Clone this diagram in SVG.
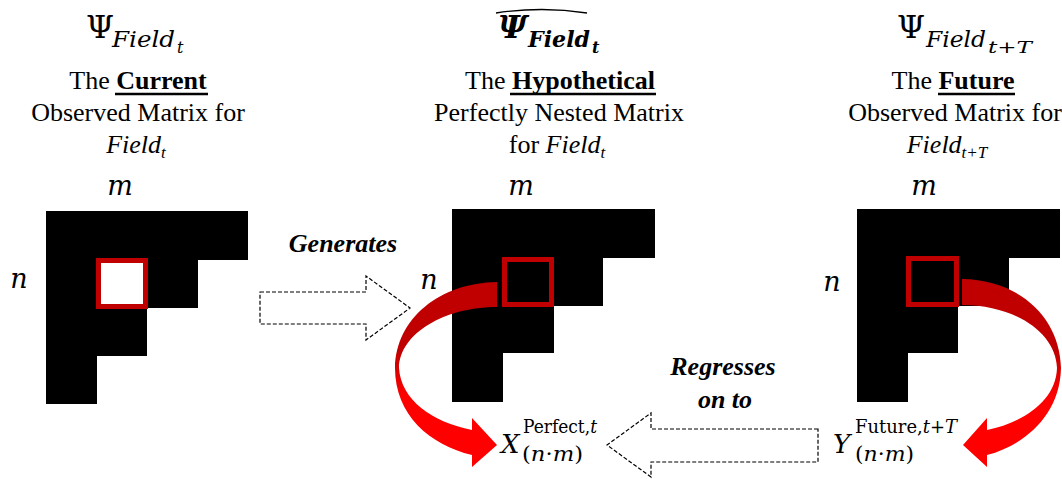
<svg xmlns="http://www.w3.org/2000/svg" width="1062" height="479" viewBox="0 0 1062 479">
<style>
.body{font-family:"Liberation Serif","Times New Roman",serif;font-size:26px;fill:#000}
.b{font-weight:bold}
.i{font-style:italic}
.math{font-family:"DejaVu Serif","Liberation Serif",serif;fill:#000}
.verb{font-family:"Liberation Serif","Times New Roman",serif;font-size:26px;font-weight:bold;font-style:italic;text-anchor:middle}
.ul{stroke:#000;stroke-width:2.5}
.mat{fill:#000}
.sel{fill:none;stroke:#c00000;stroke-width:5}
.sel.hole{fill:#fff}
.dash{fill:#fff;stroke:#000;stroke-width:1.2;stroke-dasharray:4 2}
.hat{fill:none;stroke:#000;stroke-width:1.3}
</style>
<defs>
<linearGradient id="redL" gradientUnits="userSpaceOnUse" x1="0" y1="280" x2="0" y2="468">
<stop offset="0" stop-color="#c00000"/>
<stop offset="0.38" stop-color="#c00000"/>
<stop offset="0.62" stop-color="#ff0000"/>
<stop offset="1" stop-color="#ff0000"/>
</linearGradient>
</defs>

<g id="current">
<text class="math" x="86" y="38" font-size="32">Ψ</text>
<text class="math i" x="112" y="47" font-size="22" textLength="63" lengthAdjust="spacingAndGlyphs">Field</text>
<text class="math i" x="177" y="53" font-size="16">t</text>
<text class="body" x="138" y="89" text-anchor="middle">The <tspan class="b">Current</tspan></text>
<line class="ul" x1="115" y1="94" x2="208" y2="94"/>
<text class="body" x="138" y="121" text-anchor="middle">Observed Matrix for</text>
<text class="body i" x="136" y="153" text-anchor="middle">Field<tspan font-size="17" dy="5">t</tspan></text>
<text class="math i" x="120" y="195" font-size="27" text-anchor="middle">m</text>
<text class="math i" x="19" y="288" font-size="27" text-anchor="middle">n</text>
<path class="mat" d="M46,211H248V260H198V308H147V356H97V404H46Z"/>
<rect x="98.5" y="260.5" width="47" height="46" class="sel hole"/>
</g>

<g id="hypothetical">
<path class="hat" d="M496,13 Q542,6 587,13"/>
<text class="math b i" x="498" y="38" font-size="32">Ψ</text>
<text class="math b i" x="528" y="47" font-size="22" textLength="62" lengthAdjust="spacingAndGlyphs">Field</text>
<text class="math b i" x="592" y="53" font-size="16">t</text>
<text class="body" x="560" y="89" text-anchor="middle">The <tspan class="b">Hypothetical</tspan></text>
<line class="ul" x1="510" y1="94" x2="656" y2="94"/>
<text class="body" x="559" y="121" text-anchor="middle">Perfectly Nested Matrix</text>
<text class="body" x="557" y="153" text-anchor="middle">for <tspan class="i">Field</tspan><tspan class="i" font-size="17" dy="5">t</tspan></text>
<text class="math i" x="521" y="195" font-size="27" text-anchor="middle">m</text>
<text class="math i" x="429" y="289" font-size="27" text-anchor="middle">n</text>
<path class="mat" d="M452,209H655V258H603V306H554V353H503V402H452Z"/>
<rect x="504.5" y="259.5" width="47" height="45" class="sel"/>
</g>

<g id="future">
<text class="math" x="897" y="38" font-size="32">Ψ</text>
<text class="math i" x="926" y="47" font-size="22" textLength="60" lengthAdjust="spacingAndGlyphs">Field</text>
<text class="math i" x="988" y="53" font-size="16" textLength="44" lengthAdjust="spacingAndGlyphs">t+T</text>
<text class="body" x="953" y="89" text-anchor="middle">The <tspan class="b">Future</tspan></text>
<line class="ul" x1="938" y1="94" x2="1015" y2="94"/>
<text class="body" x="955" y="121" text-anchor="middle">Observed Matrix for</text>
<text class="body i" x="947" y="153" text-anchor="middle">Field<tspan font-size="17" dy="5">t+T</tspan></text>
<text class="math i" x="924" y="195" font-size="27" text-anchor="middle">m</text>
<text class="math i" x="832" y="291" font-size="27" text-anchor="middle">n</text>
<path class="mat" d="M857,209H1060V258H1009V306H958V353H908V402H857Z"/>
<rect x="908.5" y="258.5" width="48" height="46" class="sel"/>
</g>

<g id="x-perfect">
<text class="math i" x="501" y="453" font-size="26">X</text>
<text class="math" x="523" y="433" font-size="18" textLength="74" lengthAdjust="spacingAndGlyphs">Perfect,<tspan class="i">t</tspan></text>
<text class="math" x="522" y="461" font-size="20" textLength="61" lengthAdjust="spacingAndGlyphs">(<tspan class="i">n</tspan>·<tspan class="i">m</tspan>)</text>
</g>

<g id="y-future">
<text class="math i" x="833" y="453" font-size="26">Y</text>
<text class="math" x="855" y="433" font-size="18" textLength="102" lengthAdjust="spacingAndGlyphs">Future,<tspan class="i">t</tspan>+<tspan class="i">T</tspan></text>
<text class="math" x="855" y="461" font-size="20" textLength="59" lengthAdjust="spacingAndGlyphs">(<tspan class="i">n</tspan>·<tspan class="i">m</tspan>)</text>
</g>

<g id="connectors">
<path class="dash" d="M260,292H366V276L410,308L366,340V324H260Z"/>
<text class="verb" x="343" y="252">Generates</text>
<path class="dash" d="M818,429H651V413L607,445L651,477V462H818Z"/>
<text class="verb" x="723" y="375">Regresses</text>
<text class="verb" x="725" y="408">on to</text>
<path fill="url(#redL)" d="M497,282 C440,283 396,318 395,368 C395,415 430,445 472,455 L472,467 L497,445 L472,418 L472,430 C432,422 401,400 399,368 C400,333 445,307 497,307 Z"/>
<path fill="url(#redL)" d="M962,279 C1020,280 1060,318 1061,368 C1060,415 1025,445 987,455 L987,467 L963,445 L987,418 L987,430 C1025,422 1056,400 1057,368 C1056,333 1015,305 962,305 Z"/>
</g>
</svg>
